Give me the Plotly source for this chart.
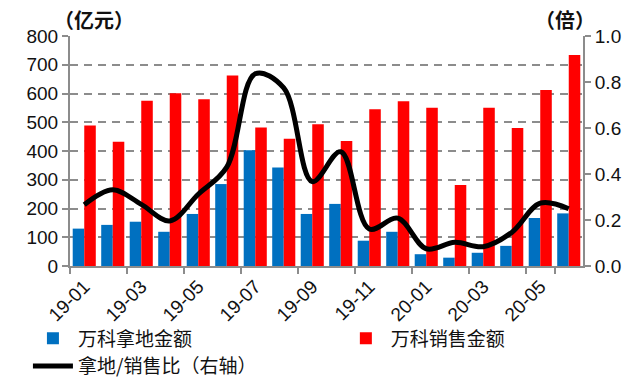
import plotly.graph_objects as go

months = ["19-01","19-02","19-03","19-04","19-05","19-06","19-07","19-08","19-09",
          "19-10","19-11","19-12","20-01","20-02","20-03","20-04","20-05","20-06"]
land = [130, 143, 154, 119, 181, 285, 403, 343, 181, 216, 88, 119, 41, 29, 46, 70, 167, 183]
sales = [489, 432, 575, 601, 580, 663, 482, 443, 493, 435, 545, 573, 550, 282, 550, 480, 612, 734]
ratio = [0.266, 0.331, 0.268, 0.196, 0.312, 0.430, 0.836, 0.774, 0.367, 0.497,
         0.161, 0.208, 0.075, 0.103, 0.084, 0.146, 0.273, 0.249]
tick_labels = ["19-01","19-03","19-05","19-07","19-09","19-11","20-01","20-03","20-05"]

AX = "#8c8c8c"
NUM_FONT = dict(family="Liberation Sans, Arial, sans-serif", size=19, color="#111111")
CJK = "Noto Sans CJK SC"
LEG_FONT = dict(family=CJK, size=19, color="#111111")

fig = go.Figure()
fig.add_trace(go.Bar(x=months, y=land, name="万科拿地金额", marker_color="#0070C0",
                     marker_line_width=0, legend="legend"))
fig.add_trace(go.Bar(x=months, y=sales, name="万科销售金额", marker_color="#FF0000",
                     marker_line_width=0, legend="legend2"))
fig.add_trace(go.Scatter(x=months, y=ratio, name="拿地/销售比（右轴）", yaxis="y2",
                         mode="lines", line=dict(color="#000000", width=5, shape="spline",
                                                 smoothing=1), legend="legend"))

fig.update_layout(
    width=632, height=378,
    margin=dict(l=70, r=49, t=36, b=112, autoexpand=False),
    paper_bgcolor="white", plot_bgcolor="white",
    barmode="group", bargap=0.19, bargroupgap=0,
    showlegend=True,
    legend=dict(orientation="v", x=-0.082, xanchor="left", y=-0.232, yanchor="top",
                tracegroupgap=0, font=LEG_FONT, itemwidth=40, bgcolor="rgba(0,0,0,0)"),
    legend2=dict(orientation="v", x=0.528, xanchor="left", y=-0.232, yanchor="top",
                 tracegroupgap=0, font=LEG_FONT, itemwidth=40, bgcolor="rgba(0,0,0,0)"),
    xaxis=dict(type="category", tickvals=tick_labels, ticktext=tick_labels,
               tickangle=-45, tickson="boundaries", ticks="outside", ticklen=6,
               tickcolor=AX, tickwidth=2, showline=True, linecolor=AX, linewidth=2,
               showgrid=False, tickfont=NUM_FONT, automargin=False),
    yaxis=dict(range=[0, 800], dtick=100, showgrid=True, gridcolor=AX, gridwidth=2,
               griddash="8px,6px", zeroline=False, showline=True, linecolor=AX,
               linewidth=2, ticks="outside", ticklen=6, tickcolor=AX, tickwidth=2,
               tickfont=NUM_FONT, automargin=False),
    yaxis2=dict(range=[0, 1], dtick=0.2, tickformat=".1f", overlaying="y", side="right",
                showgrid=False, zeroline=False, showline=True, linecolor=AX, linewidth=2,
                ticks="outside", ticklen=6, tickcolor=AX, tickwidth=2, tickfont=NUM_FONT,
                automargin=False),
    annotations=[
        dict(text="<b>（亿元）</b>", xref="paper", yref="paper", x=-0.035, y=1.07,
             xanchor="left", yanchor="middle", showarrow=False,
             font=dict(family=CJK, size=20, color="#111111")),
        dict(text="<b>（倍）</b>", xref="paper", yref="paper", x=1.027, y=1.07,
             xanchor="right", yanchor="middle", showarrow=False,
             font=dict(family=CJK, size=20, color="#111111")),
    ],
)

fig.write_html("out.html")
